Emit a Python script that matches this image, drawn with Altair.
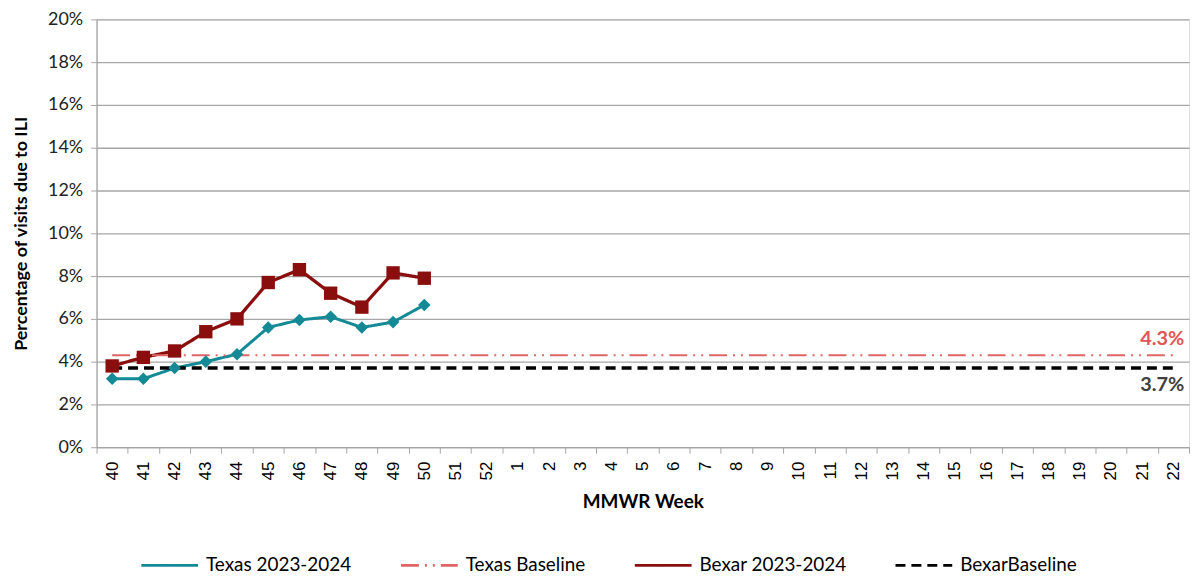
import altair as alt
import pandas as pd

weeks = [str(w) for w in list(range(40, 53)) + list(range(1, 23))]
obs_weeks = [str(w) for w in range(40, 51)]
texas = [3.2, 3.2, 3.7, 4.0, 4.35, 5.6, 5.95, 6.1, 5.6, 5.85, 6.65]
bexar = [3.8, 4.2, 4.5, 5.4, 6.0, 7.7, 8.3, 7.2, 6.55, 8.15, 7.9]
texas_baseline = 4.3
bexar_baseline = 3.7

series_names = ["Texas 2023-2024", "Texas Baseline", "Bexar 2023-2024", "BexarBaseline"]
series_colors = ["#138A95", "#E06666", "#8B0E0E", "#000000"]
series_dash = [[1, 0], [18, 6, 2, 6, 2, 6], [1, 0], [10, 6]]
series_width = {"Texas 2023-2024": 3, "Texas Baseline": 1.8, "Bexar 2023-2024": 3.3, "BexarBaseline": 3.5}

rows = []
for w, v in zip(obs_weeks, texas):
    rows.append({"week": w, "value": v / 100, "series": "Texas 2023-2024"})
for w, v in zip(obs_weeks, bexar):
    rows.append({"week": w, "value": v / 100, "series": "Bexar 2023-2024"})
for w in weeks:
    rows.append({"week": w, "value": texas_baseline / 100, "series": "Texas Baseline"})
    rows.append({"week": w, "value": bexar_baseline / 100, "series": "BexarBaseline"})
df = pd.DataFrame(rows)
df["sw"] = df["series"].map(series_width)

labels = pd.DataFrame({
    "week": [weeks[-1], weeks[-1]],
    "value": [texas_baseline / 100, bexar_baseline / 100],
    "text": [f"{texas_baseline}%", f"{bexar_baseline}%"],
})

x_enc = alt.X("week:N", sort=weeks, scale=alt.Scale(type="band", domain=weeks, paddingInner=0, paddingOuter=0),
              axis=alt.Axis(title="MMWR Week", labelAngle=-90, labelFont="Liberation Sans", labelFontSize=17,
                            labelColor="#000000", labelPadding=8, labelBaseline="middle", labelAlign="right",
                            tickBand="extent", tickColor="#A6A6A6", tickSize=6, domainColor="#A6A6A6",
                            domainWidth=1.3, titleFont="Lato", titleFontSize=19, titleFontWeight="bold",
                            titleColor="#000000", titlePadding=13, grid=False))
y_enc = alt.Y("value:Q", scale=alt.Scale(domain=[0, 0.2], nice=False),
              axis=alt.Axis(title="Percentage of visits due to ILI", format=".0%",
                            values=[i / 100 for i in range(0, 21, 2)], labelFont="Lato", labelFontSize=18,
                            labelColor="#222222", labelPadding=8, tickColor="#A6A6A6", tickSize=6,
                            domainColor="#A6A6A6", domainWidth=1.3, gridColor="#A6A6A6", gridWidth=1.3,
                            titleFont="Lato", titleFontSize=18, titleFontWeight="bold", titleColor="#000000",
                            titlePadding=17))

color_scale = alt.Scale(domain=series_names, range=series_colors)

lines = alt.Chart(df).mark_line().encode(
    x=x_enc, y=y_enc,
    color=alt.Color("series:N", scale=color_scale, sort=series_names,
                    legend=alt.Legend(title=None, orient="none", direction="horizontal", legendX=43, legendY=518,
                                      symbolType="stroke", symbolSize=3250, symbolStrokeWidth=3,
                                      labelFont="Lato", labelFontSize=19, labelColor="#000000",
                                      columnPadding=42, labelOffset=6)),
    strokeDash=alt.StrokeDash("series:N", scale=alt.Scale(domain=series_names, range=series_dash), sort=series_names),
    strokeWidth=alt.StrokeWidth("sw:Q", scale=None),
)

pts = alt.Chart(df).transform_filter(
    alt.FieldOneOfPredicate(field="series", oneOf=["Texas 2023-2024", "Bexar 2023-2024"])
).mark_point(filled=True, opacity=1).encode(
    x=alt.X("week:N", sort=weeks), y="value:Q",
    color=alt.Color("series:N", scale=color_scale, legend=None),
    shape=alt.Shape("series:N", scale=alt.Scale(domain=["Texas 2023-2024", "Bexar 2023-2024"],
                                                range=["diamond", "square"]), legend=None),
    size=alt.Size("series:N", scale=alt.Scale(domain=["Texas 2023-2024", "Bexar 2023-2024"],
                                              range=[160, 180]), legend=None),
)

txt_tx = alt.Chart(labels.iloc[[0]]).mark_text(align="right", baseline="middle", dy=-16, dx=11, fontWeight="bold",
                                                 fontSize=20, font="Lato", color="#E05555").encode(
    x=alt.X("week:N", sort=weeks), y="value:Q", text="text:N")
txt_bx = alt.Chart(labels.iloc[[1]]).mark_text(align="right", baseline="middle", dy=17, dx=11, fontWeight="bold",
                                                 fontSize=20, font="Lato", color="#404040").encode(
    x=alt.X("week:N", sort=weeks), y="value:Q", text="text:N")

chart = alt.layer(lines, pts, txt_tx, txt_bx).properties(
    width=1098, height=430,
    autosize=alt.AutoSizeParams(type="none"),
    padding={"left": 89, "top": 10, "right": 4, "bottom": 132},
).configure_view(stroke=None).configure(background="white")

chart.save("out.html", embed_options={"renderer": "svg", "actions": False})
